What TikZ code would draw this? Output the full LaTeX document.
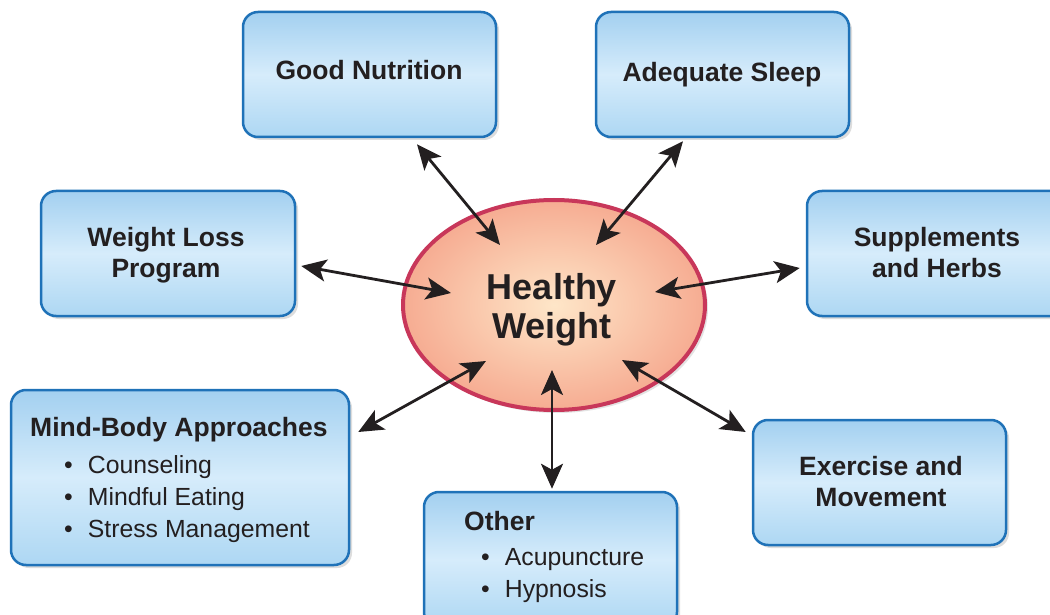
\documentclass[tikz,border=0pt]{standalone}
\usepackage{fontspec}
\setmainfont{Liberation Sans}
\usetikzlibrary{arrows.meta,shadows,shapes.geometric}
\definecolor{boxtop}{HTML}{A3D0F0}
\definecolor{boxmid}{HTML}{D6ECFB}
\definecolor{boxbot}{HTML}{ADD7F3}
\definecolor{boxline}{HTML}{1F72B8}
\definecolor{txt}{HTML}{231F20}
\definecolor{elin}{HTML}{FEE6C8}
\definecolor{elout}{HTML}{F6AC92}
\definecolor{elline}{HTML}{C8375A}
\newcommand\hdfont{\fontsize{26.5}{30.5}\selectfont\bfseries}
\newcommand\bufont{\fontsize{24.8}{31.5}\selectfont}
\newcommand\hwfont{\fontsize{36}{39}\selectfont\bfseries}
\begin{document}
\begin{tikzpicture}[x=1pt,y=-1pt,
  box/.style={draw=boxline, line width=2.5pt, rounded corners=15pt,
    top color=boxtop, bottom color=boxbot, middle color=boxmid,
    drop shadow={shadow xshift=3pt, shadow yshift=-3pt, opacity=0.22, fill=black!60},
    inner sep=0pt},
  hd/.style={font=\hdfont, text=txt, align=center, inner sep=0pt},
  bu/.style={font=\bufont, text=txt, inner sep=0pt, anchor=base west},
  biarrow/.style={draw=txt, line width=2.8pt,
    {Stealth[length=25pt,width=22pt,inset=6pt]}-{Stealth[length=25pt,width=22pt,inset=6pt]}}]
\clip (0,0) rectangle (1050,615);
\fill[white] (0,0) rectangle (1050,615);

% boxes
\node[box, minimum width=253pt, minimum height=125pt] (gn) at (369.5,74.5) {};
\node[box, minimum width=253pt, minimum height=125pt] (as) at (722.5,74.5) {};
\node[box, minimum width=254pt, minimum height=125pt] (wl) at (168,253.5) {};
\node[box, minimum width=260pt, minimum height=125pt] (sh) at (937,253.5) {};
\node[box, minimum width=338pt, minimum height=175pt] (mb) at (180,477.5) {};
\node[box, minimum width=253pt, minimum height=135pt] (ot) at (550.5,559.5) {};
\node[box, minimum width=253pt, minimum height=125pt] (ex) at (879.5,482.5) {};

% ellipse
\node[ellipse, draw=elline, line width=4pt, inner color=elin, outer color=elout,
  minimum width=302pt, minimum height=210pt, inner sep=0pt,
  drop shadow={shadow xshift=3pt, shadow yshift=-3pt, opacity=0.18, fill=black!60}] (hw) at (554,305) {};

% texts
\node[hd, anchor=base] (tgn) at (369,80) {Good Nutrition};
\node[hd, anchor=base] (tas) at (722,82) {Adequate Sleep};
\node[hd, anchor=base] (twl1) at (166,246) {Weight Loss};
\node[hd, anchor=base] (twl2) at (166,277) {Program};
\node[hd, anchor=base] (tsh1) at (937,246) {Supplements};
\node[hd, anchor=base] (tsh2) at (937,277) {and Herbs};
\node[hd, anchor=base] (tex1) at (881,475) {Exercise and};
\node[hd, anchor=base] (tex2) at (881,506) {Movement};
\node[font=\hwfont, text=txt, inner sep=0pt, anchor=base] (thw1) at (552,299) {Healthy};
\node[font=\hwfont, text=txt, inner sep=0pt, anchor=base] (thw2) at (552,338) {Weight};

\node[hd, anchor=base west] (tmb) at (30,436) {Mind-Body Approaches};
\node[bu] (mb1) at (64,473) {•\hspace{15pt}Counseling};
\node[bu] (mb2) at (64,505) {•\hspace{15pt}Mindful Eating};
\node[bu] (mb3) at (64,537) {•\hspace{15pt}Stress Management};

\node[hd, anchor=base west] (tot) at (464,530) {Other};
\node[bu] (ot1) at (481,565) {•\hspace{15pt}Acupuncture};
\node[bu] (ot2) at (481,597) {•\hspace{15pt}Hypnosis};

% arrows
\draw[biarrow] ([shift={(47.5,6)}]gn.south) -- ([shift={(-54,-60)}]hw.center);
\draw[biarrow] ([shift={(-39.5,3)}]as.south) -- ([shift={(42,-60)}]hw.center);
\draw[biarrow] ([shift={(5,12.5)}]wl.east) -- ([shift={(-103,-12)}]hw.center);
\draw[biarrow] ([shift={(-6,14.5)}]sh.west) -- ([shift={(101,-13)}]hw.center);
\draw[biarrow] ([shift={(8,-45.5)}]mb.east) -- ([shift={(-68,56)}]hw.center);
\draw[biarrow] ([shift={(1.5,-2)}]ot.north) -- ([shift={(-2,65)}]hw.center);
\draw[biarrow] ([shift={(-6,-50.5)}]ex.west) -- ([shift={(68,55)}]hw.center);
\end{tikzpicture}
\end{document}
